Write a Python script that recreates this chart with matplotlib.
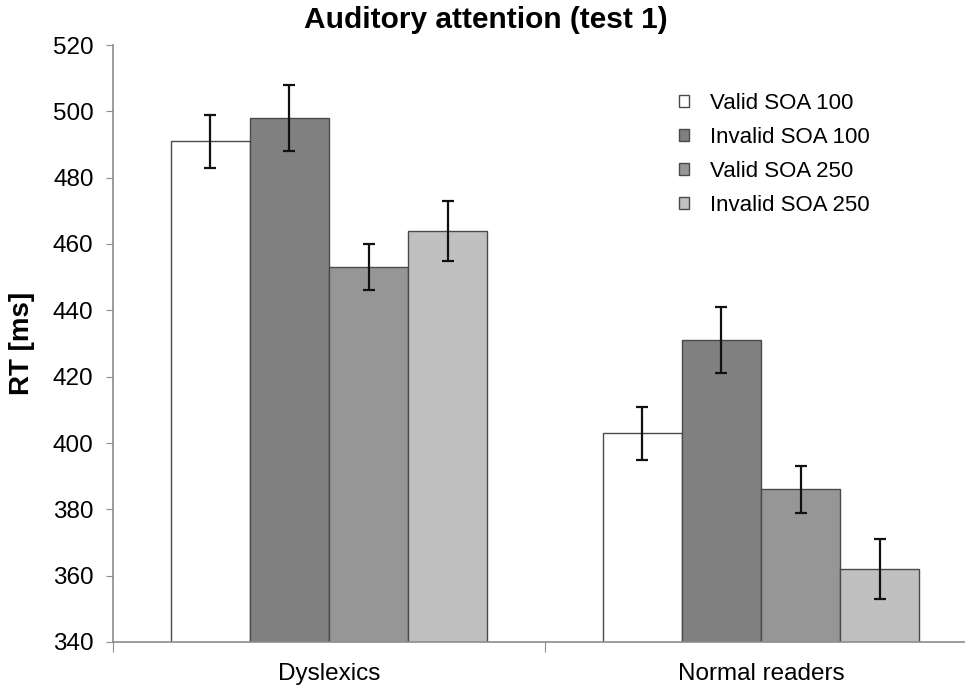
import numpy as np
import matplotlib.pyplot as plt
from matplotlib.patches import Patch

plt.rcParams['font.family'] = ['Liberation Sans', 'DejaVu Sans']

# data
groups = ["Dyslexics", "Normal readers"]
conditions = ["Valid SOA 100", "Invalid SOA 100", "Valid SOA 250", "Invalid SOA 250"]
rt_means = {
    "Valid SOA 100": [491, 403],
    "Invalid SOA 100": [498, 431],
    "Valid SOA 250": [453, 386],
    "Invalid SOA 250": [464, 362],
}
rt_errors = {
    "Valid SOA 100": [8, 8],
    "Invalid SOA 100": [10, 10],
    "Valid SOA 250": [7, 7],
    "Invalid SOA 250": [9, 9],
}
yticks = [340, 360, 380, 400, 420, 440, 460, 480, 500, 520]

colors = ["#ffffff", "#808080", "#969696", "#c0c0c0"]
edge = "#4a4a4a"
axis_gray = "#8c8c8c"

W, H = 965, 692
fig = plt.figure(figsize=(W / 100, H / 100), dpi=100)
# axes extends past right edge like in the original
ax = fig.add_axes([113 / W, 50 / H, 864 / W, 597 / H])

x = np.arange(len(groups))
bar_w = 0.183
for i, cond in enumerate(conditions):
    pos = x + (i - 1.5) * bar_w
    ax.bar(pos, rt_means[cond], width=bar_w, bottom=0, color=colors[i],
           edgecolor=edge, linewidth=1.0, zorder=2)
    ax.errorbar(pos, rt_means[cond], yerr=rt_errors[cond], fmt='none',
                ecolor='#111111', elinewidth=1.6, capsize=4.5, capthick=1.6, zorder=3)

ax.set_ylim(340, 520)
ax.set_xlim(-0.5, 1.5)
ax.set_yticks(yticks)
ax.set_yticklabels([str(v) for v in yticks], fontsize=17.5)

# category boundary ticks and centred labels
ax.set_xticks([-0.5, 0.5, 1.5])
ax.set_xticklabels([])
ax.set_xticks(x, minor=True)
ax.set_xticklabels(groups, minor=True, fontsize=17.5)
ax.tick_params(axis='x', which='major', length=7, color=axis_gray, direction='out')
ax.tick_params(axis='x', which='minor', length=0, pad=15)
ax.tick_params(axis='y', length=5, color=axis_gray, pad=9)

for s in ['top', 'right']:
    ax.spines[s].set_visible(False)
for s in ['left', 'bottom']:
    ax.spines[s].set_color(axis_gray)
    ax.spines[s].set_linewidth(1.2)

ax.set_ylabel("RT [ms]", fontsize=20, fontweight='bold')
ax.yaxis.set_label_coords(-0.09, 0.5)

fig.text(486 / W, 1 - 20 / H, "Auditory attention (test 1)", ha='center', va='center',
         fontsize=21.5, fontweight='bold')

handles = [Patch(facecolor=c, edgecolor=edge, linewidth=1.0) for c in colors]
leg = ax.legend(handles, conditions, loc='upper left',
                bbox_to_anchor=(668 / W, 1 - 82 / H), bbox_transform=fig.transFigure,
                frameon=False, fontsize=16, handlelength=0.45, handleheight=0.45,
                handletextpad=0.95, labelspacing=0.58, borderpad=0)

fig.savefig("out.png", dpi=100)
